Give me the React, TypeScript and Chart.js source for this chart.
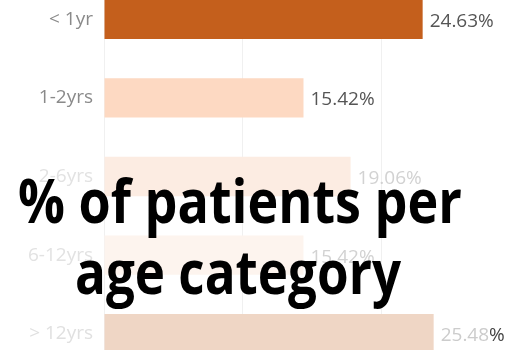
import React, { useEffect, useRef } from "react";
import { Chart, registerables } from "chart.js";

Chart.register(...registerables);

const CATEGORIES = ["< 1yr", "1-2yrs", "2-6yrs", "6-12yrs", "> 12yrs"];
const VALUES = [24.63, 15.42, 19.06, 15.42, 25.48];
const GRID_TICKS = [0, 10.73, 21.45];
const TITLE_LINES = ["% of patients per", "age category"];

const BAR_COLORS = ["#c45f1c", "#fdd9c2", "#fcece2", "#fdf4ee", "#efd6c5"];
const CAT_COLORS = ["#8a8a8a", "#8a8a8a", "#e2e2e2", "#e2e2e2", "#e0e0e0"];
const NUM_COLORS = ["#555555", "#555555", "#d2d2d2", "#d2d2d2", "#cccccc"];
const PCT_COLORS = ["#555555", "#555555", "#d2d2d2", "#d2d2d2", "#444444"];

const valueLabels = {
  id: "valueLabels",
  afterDatasetsDraw(chart: any) {
    const ctx = chart.ctx;
    const meta = chart.getDatasetMeta(0);
    ctx.save();
    ctx.font = "19px 'Open Sans'";
    ctx.textBaseline = "middle";
    ctx.textAlign = "left";
    meta.data.forEach((bar: any, i: number) => {
      const num = VALUES[i].toFixed(2);
      const x = bar.x + 7;
      const y = bar.y + 2;
      ctx.fillStyle = NUM_COLORS[i];
      ctx.fillText(num, x, y);
      const w = ctx.measureText(num).width;
      ctx.fillStyle = PCT_COLORS[i];
      ctx.fillText("%", x + w, y);
    });
    ctx.restore();
  },
};

const titleOverlay = {
  id: "titleOverlay",
  afterDraw(chart: any) {
    const ctx = chart.ctx;
    ctx.save();
    ctx.fillStyle = "#000";
    ctx.textAlign = "center";
    ctx.textBaseline = "alphabetic";
    ctx.font = "bold 60px 'Open Sans'";
    ctx.fillText(TITLE_LINES[0], 240, 243, 444);
    ctx.fillText(TITLE_LINES[1], 238, 314, 326);
    ctx.restore();
  },
};

export default function App() {
  const ref = useRef<HTMLCanvasElement | null>(null);

  useEffect(() => {
    if (!ref.current) return;
    const chart = new Chart(ref.current, {
      type: "bar",
      data: {
        labels: CATEGORIES,
        datasets: [
          {
            data: VALUES,
            backgroundColor: BAR_COLORS,
            borderWidth: 0,
            categoryPercentage: 1,
            barPercentage: 0.5,
          },
        ],
      },
      options: {
        indexAxis: "y",
        responsive: true,
        maintainAspectRatio: false,
        animation: false,
        layout: { padding: 0 },
        plugins: {
          legend: { display: false },
          tooltip: { enabled: false },
          title: { display: false },
        },
        scales: {
          x: {
            min: 0,
            max: 32,
            afterBuildTicks: (scale: any) => {
              scale.ticks = GRID_TICKS.map((v) => ({ value: v }));
            },
            afterFit: (scale: any) => {
              scale.height = 0;
              scale.paddingLeft = 0;
              scale.paddingRight = 0;
            },
            ticks: { display: false },
            grid: { color: "#f0f0f0", drawTicks: false, lineWidth: 1 },
            border: { display: false },
          },
          y: {
            afterFit: (scale: any) => {
              scale.width = 104;
              scale.paddingTop = 0;
              scale.paddingBottom = 0;
            },
            grid: { display: false, drawTicks: false },
            border: { display: false },
            ticks: {
              padding: 11,
              font: { family: "'Open Sans'", size: 19 },
              color: (c: any) => CAT_COLORS[c.index] || "#888",
            },
          },
        },
      },
      plugins: [valueLabels, titleOverlay],
    });
    return () => chart.destroy();
  }, []);

  return (
    <div
      style={{
        position: "fixed",
        left: 0,
        top: 0,
        width: 518,
        height: 350,
        overflow: "hidden",
        background: "#fff",
      }}
    >
      <div style={{ position: "absolute", left: 0, top: -20, width: 518, height: 393 }}>
        <canvas ref={ref} />
      </div>
    </div>
  );
}
